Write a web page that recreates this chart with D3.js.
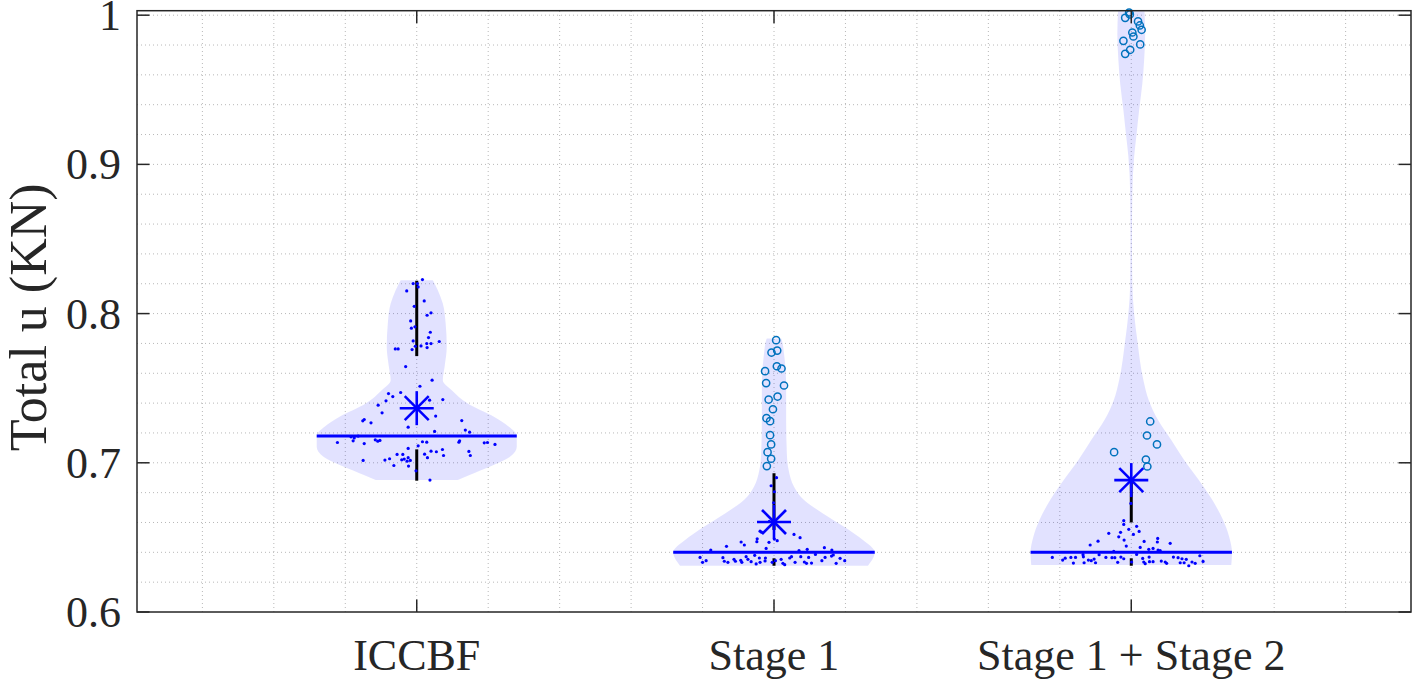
<!DOCTYPE html>
<html>
<head>
<meta charset="utf-8">
<script src="https://cdn.jsdelivr.net/npm/d3@7"></script>
<style>
  html, body { margin: 0; padding: 0; background: #fff; }
  svg { display: block; }
  text { font-family: "Liberation Serif", "Times New Roman", serif; fill: #262626; }
</style>
</head>
<body>
<div id="chart"></div>
<script>
// categories and axis ticks
const categories = ["ICCBF", "Stage 1", "Stage 1 + Stage 2"];
const yTicks = [0.6, 0.7, 0.8, 0.9, 1];
const yTickLabels = ["0.6", "0.7", "0.8", "0.9", "1"];

// violin outlines: [value, half width in x units]
const iccbfShape = [
  [0.8223, 0.045], [0.8156, 0.059], [0.8067, 0.073], [0.7933, 0.081], [0.7777, 0.084],
  [0.7643, 0.078], [0.7554, 0.073], [0.7487, 0.098], [0.7397, 0.143], [0.7308, 0.216],
  [0.7241, 0.258], [0.7181, 0.280], [0.7107, 0.280], [0.7040, 0.261], [0.6973, 0.204],
  [0.6918, 0.148], [0.6884, 0.115]
];
const stage1Shape = [
  [0.7833, 0.020], [0.7822, 0.022], [0.7732, 0.028], [0.7509, 0.034], [0.7286, 0.034],
  [0.7063, 0.036], [0.6951, 0.041], [0.6839, 0.056], [0.6750, 0.084], [0.6661, 0.137],
  [0.6572, 0.196], [0.6482, 0.249], [0.6400, 0.282], [0.6310, 0.263]
];
const stage12Shape = [
  [1.0027, 0.037], [0.9875, 0.039], [0.9697, 0.036], [0.9540, 0.031], [0.9362, 0.022],
  [0.9205, 0.015], [0.9049, 0.008], [0.8804, 0.003], [0.8500, 0.002], [0.8200, 0.003],
  [0.8000, 0.008], [0.7820, 0.017], [0.7554, 0.034], [0.7420, 0.049], [0.7286, 0.075],
  [0.7152, 0.112], [0.7018, 0.148], [0.6884, 0.189], [0.6750, 0.227], [0.6616, 0.257],
  [0.6504, 0.274], [0.6397, 0.282], [0.6315, 0.280]
];

// data points: [x offset, value]
const iccbfPoints = [
  [0.016, 0.8228], [-0.010, 0.8201], [0.002, 0.8201], [0.004, 0.8179], [-0.028, 0.8152],
  [0.021, 0.8085], [-0.007, 0.8049], [0.040, 0.8005], [0.029, 0.7989], [-0.017, 0.7951],
  [-0.005, 0.7911], [-0.015, 0.7902], [0.038, 0.7875], [0.033, 0.7839], [0.063, 0.7813],
  [-0.010, 0.7817], [0.028, 0.7799], [0.040, 0.7799], [-0.004, 0.7781], [0.012, 0.7783],
  [0.029, 0.7772], [-0.060, 0.7763], [-0.052, 0.7763], [-0.013, 0.7759], [-0.031, 0.7645],
  [0.043, 0.7554], [0.009, 0.7513], [-0.079, 0.7464], [-0.045, 0.7471], [-0.067, 0.7444],
  [0.036, 0.7420], [0.073, 0.7424], [-0.086, 0.7415], [-0.108, 0.7386], [-0.097, 0.7335],
  [0.053, 0.7313], [-0.147, 0.7290], [-0.151, 0.7281], [-0.128, 0.7268], [0.126, 0.7283],
  [-0.024, 0.7239], [0.136, 0.7219], [0.050, 0.7210], [0.148, 0.7205], [-0.184, 0.7174],
  [-0.175, 0.7167], [-0.164, 0.7179], [-0.222, 0.7136], [-0.178, 0.7147], [-0.147, 0.7129],
  [-0.116, 0.7154], [-0.109, 0.7145], [-0.103, 0.7150], [0.016, 0.7141], [0.028, 0.7138],
  [0.118, 0.7138], [0.120, 0.7147], [0.189, 0.7134], [0.198, 0.7136], [0.219, 0.7123],
  [-0.024, 0.7096], [0.004, 0.7114], [0.040, 0.7078], [0.022, 0.7058], [0.072, 0.7089],
  [0.075, 0.7049], [-0.055, 0.7056], [-0.039, 0.7056], [-0.035, 0.7025], [-0.024, 0.7034],
  [-0.042, 0.7020], [-0.027, 0.7011], [-0.018, 0.7016], [-0.150, 0.7016], [-0.089, 0.7018],
  [-0.076, 0.7027], [-0.064, 0.6982], [0.030, 0.7034], [0.055, 0.7074], [0.146, 0.7076],
  [0.150, 0.7049], [-0.002, 0.6946], [-0.023, 0.6978], [0.037, 0.6884]
];
const stage1Points = [
  [0.007, 0.6900], [-0.008, 0.6846], [0.001, 0.6806], [-0.001, 0.6732], [-0.013, 0.6607],
  [-0.039, 0.6542], [-0.035, 0.6535], [-0.047, 0.6491], [-0.048, 0.6471], [-0.014, 0.6467],
  [0.001, 0.6489], [0.009, 0.6478], [-0.092, 0.6469], [-0.083, 0.6449], [0.056, 0.6520],
  [0.073, 0.6498], [-0.133, 0.6440], [-0.022, 0.6426], [-0.177, 0.6415], [0.070, 0.6411],
  [0.093, 0.6420], [0.141, 0.6431], [0.162, 0.6415], [-0.207, 0.6366], [-0.200, 0.6333],
  [-0.190, 0.6344], [-0.143, 0.6364], [-0.139, 0.6340], [-0.129, 0.6333], [-0.112, 0.6353],
  [-0.108, 0.6340], [-0.093, 0.6346], [-0.090, 0.6333], [-0.078, 0.6371], [-0.073, 0.6353],
  [-0.064, 0.6337], [-0.050, 0.6322], [-0.041, 0.6362], [-0.039, 0.6333], [-0.024, 0.6362],
  [-0.025, 0.6342], [0.004, 0.6344], [0.020, 0.6353], [0.025, 0.6326], [0.044, 0.6362],
  [0.049, 0.6371], [0.059, 0.6333], [0.075, 0.6371], [0.085, 0.6335], [0.091, 0.6326],
  [0.105, 0.6328], [0.097, 0.6366], [0.116, 0.6386], [0.134, 0.6344], [0.143, 0.6366],
  [0.161, 0.6375], [0.166, 0.6382], [0.174, 0.6326], [0.185, 0.6360], [0.198, 0.6344],
  [0.030, 0.6317], [-0.005, 0.6333], [-0.054, 0.6380]
];
const stage12Points = [
  [-0.001, 0.6728], [-0.021, 0.6612], [-0.021, 0.6587], [0.015, 0.6574], [-0.007, 0.6554],
  [0.022, 0.6540], [0.006, 0.6520], [-0.063, 0.6527], [-0.035, 0.6504], [-0.030, 0.6534],
  [-0.020, 0.6482], [-0.014, 0.6442], [-0.093, 0.6475], [-0.115, 0.6449], [0.036, 0.6473],
  [0.025, 0.6433], [0.074, 0.6493], [0.073, 0.6469], [0.109, 0.6460], [0.049, 0.6420],
  [0.061, 0.6426], [0.075, 0.6415], [0.081, 0.6411], [-0.049, 0.6406], [-0.135, 0.6384],
  [-0.134, 0.6370], [-0.221, 0.6366], [-0.192, 0.6348], [-0.185, 0.6361], [-0.169, 0.6366],
  [-0.156, 0.6366], [-0.162, 0.6328], [-0.132, 0.6330], [-0.120, 0.6348], [-0.112, 0.6344],
  [-0.104, 0.6355], [-0.100, 0.6330], [-0.090, 0.6384], [-0.071, 0.6366], [-0.054, 0.6364],
  [-0.046, 0.6364], [-0.038, 0.6333], [-0.029, 0.6368], [-0.021, 0.6357], [0.001, 0.6335],
  [0.015, 0.6386], [0.032, 0.6359], [0.035, 0.6335], [0.039, 0.6324], [0.050, 0.6368],
  [0.051, 0.6337], [0.061, 0.6337], [0.084, 0.6341], [0.095, 0.6335], [0.099, 0.6326],
  [0.118, 0.6368], [0.131, 0.6364], [0.137, 0.6330], [0.142, 0.6357], [0.148, 0.6330],
  [0.154, 0.6353], [0.161, 0.6310], [0.170, 0.6335], [0.179, 0.6326], [0.192, 0.6377],
  [0.201, 0.6339]
];

// outliers: [x offset, value]
const iccbfOutliers = [];
const stage1Outliers = [
  [0.006, 0.7822], [-0.007, 0.7739], [0.009, 0.7752], [0.008, 0.7647], [0.021, 0.7632],
  [-0.025, 0.7614], [-0.022, 0.7534], [0.028, 0.7518], [0.010, 0.7444], [-0.015, 0.7424],
  [-0.003, 0.7359], [-0.021, 0.7299], [-0.011, 0.7279], [-0.011, 0.7185], [-0.008, 0.7123],
  [-0.018, 0.7071], [-0.008, 0.7027], [-0.020, 0.6978]
];
const stage12Outliers = [
  [-0.006, 1.0018], [-0.004, 1.0005], [-0.017, 0.9982], [0.019, 0.9958], [0.024, 0.9931],
  [0.029, 0.9902], [0.003, 0.9884], [0.006, 0.9857], [-0.022, 0.9828], [0.025, 0.9804],
  [-0.003, 0.9768], [-0.017, 0.9741],
  [0.053, 0.7277], [0.044, 0.7183], [0.072, 0.7123], [-0.048, 0.7071], [0.041, 0.7022],
  [0.045, 0.6975]
];

// summary statistics per group
const meanValues = [0.7366, 0.6603, 0.6884];
const medianValues = [0.718, 0.640, 0.640];
// [lower whisker end, Q1, Q3, upper whisker end]
const whiskers = [
  [0.688, 0.709, 0.7715, 0.822],
  [0.631, 0.636, 0.655, 0.693],
  [0.631, 0.636, 0.660, 0.690]
];

const shapes = [iccbfShape, stage1Shape, stage12Shape];
const points = [iccbfPoints, stage1Points, stage12Points];
const outliers = [iccbfOutliers, stage1Outliers, stage12Outliers];

const width = 1413, height = 679;
const margin = {left: 137, right: 2, top: 10.7, bottom: 67};

const svg = d3.select('#chart').append('svg')
  .attr('width', width)
  .attr('height', height);

const x = d3.scaleLinear()
  .domain([0.217, 3.783])
  .range([margin.left, width - margin.right]);
const y = d3.scaleLinear()
  .domain([0.6, 1.003])
  .range([height - margin.bottom, margin.top]);

const x0 = x.range()[0], x1 = x.range()[1];
const y0 = y.range()[0], y1 = y.range()[1];

// grid (dotted)
const grid = svg.append('g');
const xGrid = d3.range(2, 19).map(d => d / 5);
const yGrid = d3.range(31, 51).map(d => d / 50);
grid.selectAll('line.gx').data(xGrid).enter().append('line')
  .attr('x1', d => x(d)).attr('x2', d => x(d))
  .attr('y1', y0).attr('y2', y1);
grid.selectAll('line.gy').data(yGrid).enter().append('line')
  .attr('x1', x0).attr('x2', x1)
  .attr('y1', d => y(d)).attr('y2', d => y(d));
grid.selectAll('line')
  .attr('stroke', '#b8b8b8')
  .attr('stroke-width', 1)
  .attr('stroke-dasharray', '1,3');

// violins
const violins = svg.append('g');
shapes.forEach((shape, i) => {
  const c = i + 1;
  const area = d3.area()
    .curve(d3.curveMonotoneY)
    .y(d => y(d[0]))
    .x0(d => x(c - d[1]))
    .x1(d => x(c + d[1]));
  violins.append('path')
    .datum(shape)
    .attr('d', area)
    .attr('fill', 'rgb(0,0,255)')
    .attr('fill-opacity', 0.115)
    .attr('stroke', 'none');
});

// whiskers
const wg = svg.append('g');
whiskers.forEach((w, i) => {
  const c = i + 1;
  [[w[0], w[1]], [w[2], w[3]]].forEach(seg => {
    wg.append('line')
      .attr('x1', x(c)).attr('x2', x(c))
      .attr('y1', y(seg[0])).attr('y2', y(seg[1]))
      .attr('stroke', '#000')
      .attr('stroke-width', 3);
  });
});

// median lines span the violin at that value
const ml = svg.append('g');
medianValues.forEach((m, i) => {
  const c = i + 1;
  const shape = shapes[i];
  const hw = d3.scaleLinear()
    .domain(shape.map(d => d[0]))
    .range(shape.map(d => d[1]));
  ml.append('line')
    .attr('x1', x(c - hw(m))).attr('x2', x(c + hw(m)))
    .attr('y1', y(m)).attr('y2', y(m))
    .attr('stroke', 'rgb(0,0,255)')
    .attr('stroke-width', 3);
});

// data points
const pts = svg.append('g');
points.forEach((grp, i) => {
  const c = i + 1;
  pts.selectAll(null).data(grp).enter().append('circle')
    .attr('cx', d => x(c + d[0]))
    .attr('cy', d => y(d[1]))
    .attr('r', 1.6)
    .attr('fill', 'rgb(0,0,255)');
});

// outliers
const outs = svg.append('g');
outliers.forEach((grp, i) => {
  const c = i + 1;
  outs.selectAll(null).data(grp).enter().append('circle')
    .attr('cx', d => x(c + d[0]))
    .attr('cy', d => y(d[1]))
    .attr('r', 3.6)
    .attr('fill', 'none')
    .attr('stroke', '#0072BD')
    .attr('stroke-width', 1.5);
});

// mean asterisks
const stars = svg.append('g');
meanValues.forEach((m, i) => {
  const cx = x(i + 1), cy = y(m);
  const s = 17, t = 12;
  const g = stars.append('g').attr('transform', 'translate(' + cx + ',' + cy + ')');
  [[-s, 0, s, 0], [0, -s, 0, s], [-t, -t, t, t], [-t, t, t, -t]].forEach(l => {
    g.append('line')
      .attr('x1', l[0]).attr('y1', l[1]).attr('x2', l[2]).attr('y2', l[3])
      .attr('stroke', 'rgb(0,0,255)')
      .attr('stroke-width', 2.6);
  });
});

// axes box and ticks
const ax = svg.append('g').attr('stroke', '#262626').attr('stroke-width', 1.5);
ax.append('rect')
  .attr('x', x0).attr('y', y1)
  .attr('width', x1 - x0).attr('height', y0 - y1)
  .attr('fill', 'none');
const tickLen = 12.5;
yTicks.forEach(v => {
  ax.append('line').attr('x1', x0).attr('x2', x0 + tickLen).attr('y1', y(v)).attr('y2', y(v));
  ax.append('line').attr('x1', x1).attr('x2', x1 - tickLen).attr('y1', y(v)).attr('y2', y(v));
});
categories.forEach((c, i) => {
  ax.append('line').attr('x1', x(i + 1)).attr('x2', x(i + 1)).attr('y1', y0).attr('y2', y0 - tickLen);
  ax.append('line').attr('x1', x(i + 1)).attr('x2', x(i + 1)).attr('y1', y1).attr('y2', y1 + tickLen);
});

// tick labels
svg.append('g').selectAll('text').data(yTicks).enter().append('text')
  .attr('x', 121)
  .attr('y', d => y(d))
  .attr('dy', '0.34em')
  .attr('text-anchor', 'end')
  .attr('font-size', 44)
  .text((d, i) => yTickLabels[i]);

svg.append('g').selectAll('text').data(categories).enter().append('text')
  .attr('x', (d, i) => x(i + 1))
  .attr('y', 670)
  .attr('text-anchor', 'middle')
  .attr('font-size', 44)
  .text(d => d);

// y label
svg.append('text')
  .attr('transform', 'translate(46,' + ((y0 + y1) / 2 + 6) + ') rotate(-90)')
  .attr('text-anchor', 'middle')
  .attr('font-size', 52)
  .text('Total u (KN)');
</script>
</body>
</html>
